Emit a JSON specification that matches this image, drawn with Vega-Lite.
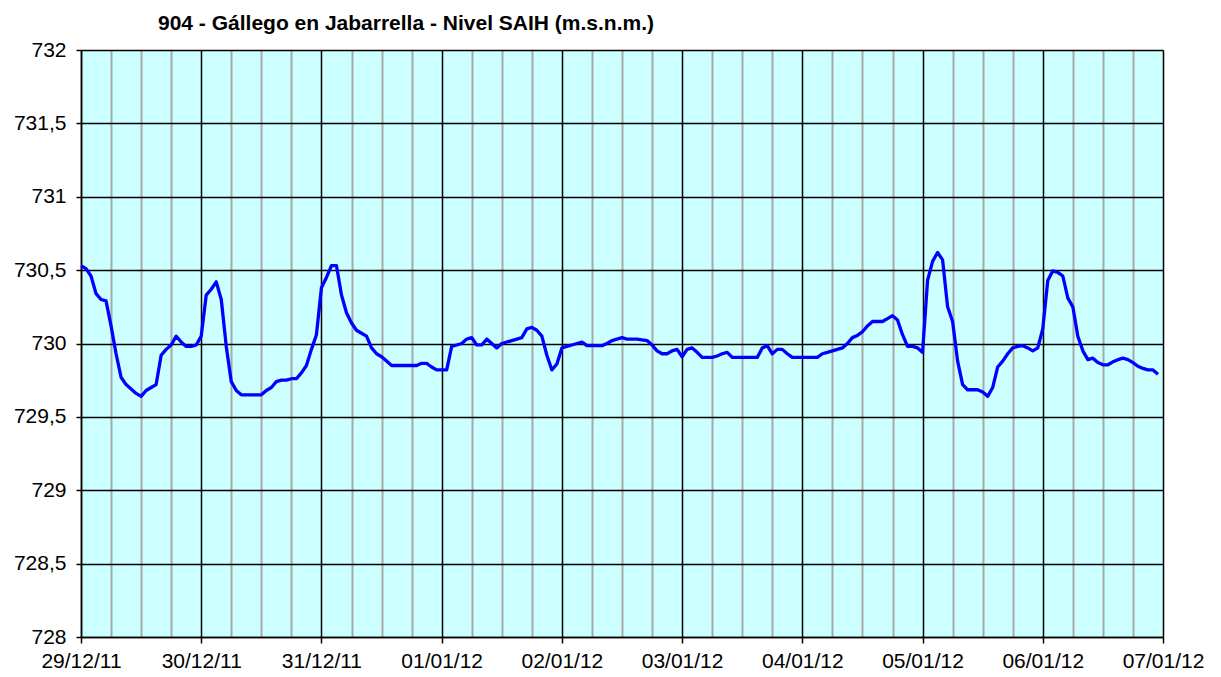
{
  "$schema": "https://vega.github.io/schema/vega-lite/v6.json",
  "width": 1082,
  "height": 587,
  "autosize": {"type": "none"},
  "padding": {"left": 81, "top": 50, "right": 58, "bottom": 40},
  "background": "white",
  "view": {"fill": "#CCFFFF", "stroke": "#808080", "strokeWidth": 1},
  "title": {
    "text": "904 - Gállego en Jabarrella - Nivel SAIH (m.s.n.m.)",
    "font": "Liberation Sans",
    "fontSize": 21,
    "fontWeight": "bold",
    "color": "black",
    "anchor": "start",
    "frame": "group",
    "dx": 77,
    "dy": 24,
    "baseline": "alphabetic",
    "offset": 12
  },
  "data": {"values": [
    {"t":"2011-12-29T00:00","v":730.53},{"t":"2011-12-29T01:00","v":730.51},{"t":"2011-12-29T02:00","v":730.46},{"t":"2011-12-29T03:00","v":730.34},{"t":"2011-12-29T04:00","v":730.30},{"t":"2011-12-29T05:00","v":730.29},{"t":"2011-12-29T06:00","v":730.12},{"t":"2011-12-29T07:00","v":729.93},{"t":"2011-12-29T08:00","v":729.77},{"t":"2011-12-29T09:00","v":729.72},{"t":"2011-12-29T10:00","v":729.69},{"t":"2011-12-29T11:00","v":729.66},{"t":"2011-12-29T12:00","v":729.64},{"t":"2011-12-29T13:00","v":729.68},{"t":"2011-12-29T14:00","v":729.70},{"t":"2011-12-29T15:00","v":729.72},{"t":"2011-12-29T16:00","v":729.92},{"t":"2011-12-29T17:00","v":729.96},{"t":"2011-12-29T18:00","v":729.99},{"t":"2011-12-29T19:00","v":730.05},{"t":"2011-12-29T20:00","v":730.01},{"t":"2011-12-29T21:00","v":729.98},{"t":"2011-12-29T22:00","v":729.98},{"t":"2011-12-29T23:00","v":729.99},
    {"t":"2011-12-30T00:00","v":730.05},{"t":"2011-12-30T01:00","v":730.33},{"t":"2011-12-30T02:00","v":730.37},{"t":"2011-12-30T03:00","v":730.42},{"t":"2011-12-30T04:00","v":730.30},{"t":"2011-12-30T05:00","v":729.98},{"t":"2011-12-30T06:00","v":729.74},{"t":"2011-12-30T07:00","v":729.68},{"t":"2011-12-30T08:00","v":729.65},{"t":"2011-12-30T09:00","v":729.65},{"t":"2011-12-30T10:00","v":729.65},{"t":"2011-12-30T11:00","v":729.65},{"t":"2011-12-30T12:00","v":729.65},{"t":"2011-12-30T13:00","v":729.68},{"t":"2011-12-30T14:00","v":729.70},{"t":"2011-12-30T15:00","v":729.74},{"t":"2011-12-30T16:00","v":729.75},{"t":"2011-12-30T17:00","v":729.75},{"t":"2011-12-30T18:00","v":729.76},{"t":"2011-12-30T19:00","v":729.76},{"t":"2011-12-30T20:00","v":729.80},{"t":"2011-12-30T21:00","v":729.85},{"t":"2011-12-30T22:00","v":729.96},{"t":"2011-12-30T23:00","v":730.06},
    {"t":"2011-12-31T00:00","v":730.38},{"t":"2011-12-31T01:00","v":730.45},{"t":"2011-12-31T02:00","v":730.53},{"t":"2011-12-31T03:00","v":730.53},{"t":"2011-12-31T04:00","v":730.33},{"t":"2011-12-31T05:00","v":730.21},{"t":"2011-12-31T06:00","v":730.14},{"t":"2011-12-31T07:00","v":730.09},{"t":"2011-12-31T08:00","v":730.07},{"t":"2011-12-31T09:00","v":730.05},{"t":"2011-12-31T10:00","v":729.97},{"t":"2011-12-31T11:00","v":729.93},{"t":"2011-12-31T12:00","v":729.91},{"t":"2011-12-31T13:00","v":729.88},{"t":"2011-12-31T14:00","v":729.85},{"t":"2011-12-31T15:00","v":729.85},{"t":"2011-12-31T16:00","v":729.85},{"t":"2011-12-31T17:00","v":729.85},{"t":"2011-12-31T18:00","v":729.85},{"t":"2011-12-31T19:00","v":729.85},{"t":"2011-12-31T20:00","v":729.865},{"t":"2011-12-31T21:00","v":729.865},{"t":"2011-12-31T22:00","v":729.84},{"t":"2011-12-31T23:00","v":729.82},
    {"t":"2012-01-01T00:00","v":729.82},{"t":"2012-01-01T01:00","v":729.82},{"t":"2012-01-01T02:00","v":729.98},{"t":"2012-01-01T03:00","v":729.99},{"t":"2012-01-01T04:00","v":730.00},{"t":"2012-01-01T05:00","v":730.03},{"t":"2012-01-01T06:00","v":730.04},{"t":"2012-01-01T07:00","v":729.99},{"t":"2012-01-01T08:00","v":729.99},{"t":"2012-01-01T09:00","v":730.03},{"t":"2012-01-01T10:00","v":730.00},{"t":"2012-01-01T11:00","v":729.97},{"t":"2012-01-01T12:00","v":730.00},{"t":"2012-01-01T13:00","v":730.01},{"t":"2012-01-01T14:00","v":730.02},{"t":"2012-01-01T15:00","v":730.03},{"t":"2012-01-01T16:00","v":730.04},{"t":"2012-01-01T17:00","v":730.10},{"t":"2012-01-01T18:00","v":730.11},{"t":"2012-01-01T19:00","v":730.09},{"t":"2012-01-01T20:00","v":730.05},{"t":"2012-01-01T21:00","v":729.92},{"t":"2012-01-01T22:00","v":729.82},{"t":"2012-01-01T23:00","v":729.86},
    {"t":"2012-01-02T00:00","v":729.97},{"t":"2012-01-02T01:00","v":729.98},{"t":"2012-01-02T02:00","v":729.99},{"t":"2012-01-02T03:00","v":730.00},{"t":"2012-01-02T04:00","v":730.01},{"t":"2012-01-02T05:00","v":729.985},{"t":"2012-01-02T06:00","v":729.985},{"t":"2012-01-02T07:00","v":729.985},{"t":"2012-01-02T08:00","v":729.985},{"t":"2012-01-02T09:00","v":730.00},{"t":"2012-01-02T10:00","v":730.02},{"t":"2012-01-02T11:00","v":730.03},{"t":"2012-01-02T12:00","v":730.04},{"t":"2012-01-02T13:00","v":730.03},{"t":"2012-01-02T14:00","v":730.03},{"t":"2012-01-02T15:00","v":730.03},{"t":"2012-01-02T16:00","v":730.025},{"t":"2012-01-02T17:00","v":730.02},{"t":"2012-01-02T18:00","v":729.99},{"t":"2012-01-02T19:00","v":729.95},{"t":"2012-01-02T20:00","v":729.93},{"t":"2012-01-02T21:00","v":729.93},{"t":"2012-01-02T22:00","v":729.95},{"t":"2012-01-02T23:00","v":729.96},
    {"t":"2012-01-03T00:00","v":729.91},{"t":"2012-01-03T01:00","v":729.96},{"t":"2012-01-03T02:00","v":729.97},{"t":"2012-01-03T03:00","v":729.94},{"t":"2012-01-03T04:00","v":729.905},{"t":"2012-01-03T05:00","v":729.905},{"t":"2012-01-03T06:00","v":729.905},{"t":"2012-01-03T07:00","v":729.915},{"t":"2012-01-03T08:00","v":729.93},{"t":"2012-01-03T09:00","v":729.94},{"t":"2012-01-03T10:00","v":729.905},{"t":"2012-01-03T11:00","v":729.905},{"t":"2012-01-03T12:00","v":729.905},{"t":"2012-01-03T13:00","v":729.905},{"t":"2012-01-03T14:00","v":729.905},{"t":"2012-01-03T15:00","v":729.905},{"t":"2012-01-03T16:00","v":729.97},{"t":"2012-01-03T17:00","v":729.985},{"t":"2012-01-03T18:00","v":729.93},{"t":"2012-01-03T19:00","v":729.96},{"t":"2012-01-03T20:00","v":729.96},{"t":"2012-01-03T21:00","v":729.93},{"t":"2012-01-03T22:00","v":729.905},{"t":"2012-01-03T23:00","v":729.905},
    {"t":"2012-01-04T00:00","v":729.905},{"t":"2012-01-04T01:00","v":729.905},{"t":"2012-01-04T02:00","v":729.905},{"t":"2012-01-04T03:00","v":729.905},{"t":"2012-01-04T04:00","v":729.93},{"t":"2012-01-04T05:00","v":729.94},{"t":"2012-01-04T06:00","v":729.95},{"t":"2012-01-04T07:00","v":729.96},{"t":"2012-01-04T08:00","v":729.97},{"t":"2012-01-04T09:00","v":730.00},{"t":"2012-01-04T10:00","v":730.04},{"t":"2012-01-04T11:00","v":730.055},{"t":"2012-01-04T12:00","v":730.08},{"t":"2012-01-04T13:00","v":730.12},{"t":"2012-01-04T14:00","v":730.15},{"t":"2012-01-04T15:00","v":730.15},{"t":"2012-01-04T16:00","v":730.15},{"t":"2012-01-04T17:00","v":730.17},{"t":"2012-01-04T18:00","v":730.19},{"t":"2012-01-04T19:00","v":730.16},{"t":"2012-01-04T20:00","v":730.06},{"t":"2012-01-04T21:00","v":729.98},{"t":"2012-01-04T22:00","v":729.98},{"t":"2012-01-04T23:00","v":729.97},
    {"t":"2012-01-05T00:00","v":729.94},{"t":"2012-01-05T01:00","v":730.43},{"t":"2012-01-05T02:00","v":730.56},{"t":"2012-01-05T03:00","v":730.62},{"t":"2012-01-05T04:00","v":730.57},{"t":"2012-01-05T05:00","v":730.25},{"t":"2012-01-05T06:00","v":730.15},{"t":"2012-01-05T07:00","v":729.88},{"t":"2012-01-05T08:00","v":729.72},{"t":"2012-01-05T09:00","v":729.685},{"t":"2012-01-05T10:00","v":729.685},{"t":"2012-01-05T11:00","v":729.685},{"t":"2012-01-05T12:00","v":729.67},{"t":"2012-01-05T13:00","v":729.64},{"t":"2012-01-05T14:00","v":729.70},{"t":"2012-01-05T15:00","v":729.84},{"t":"2012-01-05T16:00","v":729.88},{"t":"2012-01-05T17:00","v":729.93},{"t":"2012-01-05T18:00","v":729.97},{"t":"2012-01-05T19:00","v":729.98},{"t":"2012-01-05T20:00","v":729.985},{"t":"2012-01-05T21:00","v":729.97},{"t":"2012-01-05T22:00","v":729.95},{"t":"2012-01-05T23:00","v":729.97},
    {"t":"2012-01-06T00:00","v":730.10},{"t":"2012-01-06T01:00","v":730.43},{"t":"2012-01-06T02:00","v":730.495},{"t":"2012-01-06T03:00","v":730.485},{"t":"2012-01-06T04:00","v":730.46},{"t":"2012-01-06T05:00","v":730.31},{"t":"2012-01-06T06:00","v":730.25},{"t":"2012-01-06T07:00","v":730.05},{"t":"2012-01-06T08:00","v":729.95},{"t":"2012-01-06T09:00","v":729.89},{"t":"2012-01-06T10:00","v":729.90},{"t":"2012-01-06T11:00","v":729.87},{"t":"2012-01-06T12:00","v":729.855},{"t":"2012-01-06T13:00","v":729.855},{"t":"2012-01-06T14:00","v":729.875},{"t":"2012-01-06T15:00","v":729.89},{"t":"2012-01-06T16:00","v":729.90},{"t":"2012-01-06T17:00","v":729.89},{"t":"2012-01-06T18:00","v":729.87},{"t":"2012-01-06T19:00","v":729.845},{"t":"2012-01-06T20:00","v":729.83},{"t":"2012-01-06T21:00","v":729.82},{"t":"2012-01-06T22:00","v":729.82},{"t":"2012-01-06T23:00","v":729.79}
  ]},
  "layer": [
    {
      "mark": {"type": "line", "opacity": 0},
      "encoding": {
        "x": {
          "field": "t", "type": "temporal",
          "scale": {"domain": [{"year": 2011, "month": 12, "date": 29}, {"year": 2012, "month": 1, "date": 7}]},
          "axis": {
            "orient": "bottom",
            "title": null, "labels": false, "ticks": false, "domain": false,
            "grid": true, "gridColor": "#A8A8A8", "gridWidth": 2, "gridOpacity": 1,
            "values": [
              {"year": 2011, "month": 12, "date": 29, "hours": 6}, {"year": 2011, "month": 12, "date": 29, "hours": 12}, {"year": 2011, "month": 12, "date": 29, "hours": 18},
              {"year": 2011, "month": 12, "date": 30, "hours": 6}, {"year": 2011, "month": 12, "date": 30, "hours": 12}, {"year": 2011, "month": 12, "date": 30, "hours": 18},
              {"year": 2011, "month": 12, "date": 31, "hours": 6}, {"year": 2011, "month": 12, "date": 31, "hours": 12}, {"year": 2011, "month": 12, "date": 31, "hours": 18},
              {"year": 2012, "month": 1, "date": 1, "hours": 6}, {"year": 2012, "month": 1, "date": 1, "hours": 12}, {"year": 2012, "month": 1, "date": 1, "hours": 18},
              {"year": 2012, "month": 1, "date": 2, "hours": 6}, {"year": 2012, "month": 1, "date": 2, "hours": 12}, {"year": 2012, "month": 1, "date": 2, "hours": 18},
              {"year": 2012, "month": 1, "date": 3, "hours": 6}, {"year": 2012, "month": 1, "date": 3, "hours": 12}, {"year": 2012, "month": 1, "date": 3, "hours": 18},
              {"year": 2012, "month": 1, "date": 4, "hours": 6}, {"year": 2012, "month": 1, "date": 4, "hours": 12}, {"year": 2012, "month": 1, "date": 4, "hours": 18},
              {"year": 2012, "month": 1, "date": 5, "hours": 6}, {"year": 2012, "month": 1, "date": 5, "hours": 12}, {"year": 2012, "month": 1, "date": 5, "hours": 18},
              {"year": 2012, "month": 1, "date": 6, "hours": 6}, {"year": 2012, "month": 1, "date": 6, "hours": 12}, {"year": 2012, "month": 1, "date": 6, "hours": 18}
            ]
          }
        },
        "y": {
          "field": "v", "type": "quantitative",
          "scale": {"domain": [728, 732], "zero": false, "nice": false},
          "axis": {
            "orient": "left",
            "title": null,
            "values": [728, 728.5, 729, 729.5, 730, 730.5, 731, 731.5, 732],
            "labelExpr": "replace(toString(datum.value), '.', ',')",
            "grid": true, "gridColor": "#000000", "gridWidth": 1.5, "gridOpacity": 1,
            "domain": true, "domainColor": "#000000", "domainWidth": 1.5,
            "ticks": true, "tickColor": "#000000", "tickSize": 5, "tickWidth": 1.5,
            "labelFont": "Liberation Sans", "labelFontSize": 21, "labelColor": "#000000",
            "labelPadding": 10, "labelOverlap": false, "labelFlush": false, "labelBound": false
          }
        }
      }
    },
    {
      "mark": {"type": "line", "color": "#0000FF", "strokeWidth": 3.3, "strokeJoin": "round"},
      "encoding": {
        "x": {
          "field": "t", "type": "temporal",
          "scale": {"domain": [{"year": 2011, "month": 12, "date": 29}, {"year": 2012, "month": 1, "date": 7}]},
          "axis": {
            "orient": "bottom",
            "title": null, "format": "%d/%m/%y",
            "values": [
              {"year": 2011, "month": 12, "date": 29}, {"year": 2011, "month": 12, "date": 30}, {"year": 2011, "month": 12, "date": 31},
              {"year": 2012, "month": 1, "date": 1}, {"year": 2012, "month": 1, "date": 2}, {"year": 2012, "month": 1, "date": 3},
              {"year": 2012, "month": 1, "date": 4}, {"year": 2012, "month": 1, "date": 5}, {"year": 2012, "month": 1, "date": 6},
              {"year": 2012, "month": 1, "date": 7}
            ],
            "grid": true, "gridColor": "#000000", "gridWidth": 1.5, "gridOpacity": 1,
            "domain": true, "domainColor": "#000000", "domainWidth": 1.5,
            "ticks": true, "tickColor": "#000000", "tickSize": 6, "tickWidth": 1.5,
            "labelFont": "Liberation Sans", "labelFontSize": 21, "labelColor": "#000000",
            "labelPadding": 7, "labelOverlap": false, "labelFlush": false, "labelBound": false, "labelAngle": 0
          }
        },
        "y": {
          "field": "v", "type": "quantitative",
          "scale": {"domain": [728, 732], "zero": false, "nice": false},
          "axis": {
            "orient": "left",
            "title": null,
            "values": [728, 728.5, 729, 729.5, 730, 730.5, 731, 731.5, 732],
            "labelExpr": "replace(toString(datum.value), '.', ',')",
            "grid": true, "gridColor": "#000000", "gridWidth": 1.5, "gridOpacity": 1,
            "domain": true, "domainColor": "#000000", "domainWidth": 1.5,
            "ticks": true, "tickColor": "#000000", "tickSize": 5, "tickWidth": 1.5,
            "labelFont": "Liberation Sans", "labelFontSize": 21, "labelColor": "#000000",
            "labelPadding": 10, "labelOverlap": false, "labelFlush": false, "labelBound": false
          }
        }
      }
    }
  ],
  "resolve": {"axis": {"x": "independent"}}
}
